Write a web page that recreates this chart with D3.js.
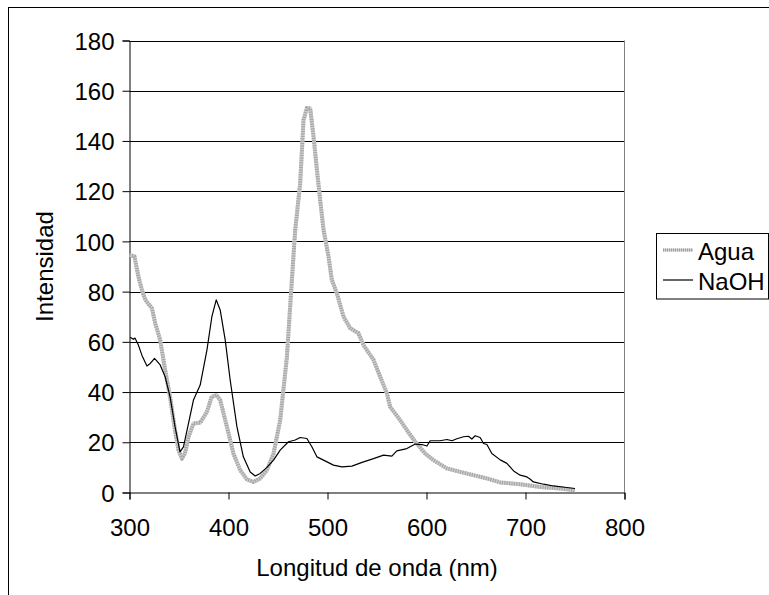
<!DOCTYPE html>
<html>
<head>
<meta charset="utf-8">
<script src="https://cdn.jsdelivr.net/npm/d3@7/dist/d3.min.js"></script>
<style>
  html, body { margin: 0; padding: 0; background: #fff; }
  svg { display: block; }
  text { font-family: "Liberation Sans", Arial, sans-serif; fill: #000; }
</style>
</head>
<body>
<svg id="chart" width="769" height="595"></svg>
<script>
// Emission spectra: wavelength (nm) and intensity for each solvent
const aguaNm = [300, 305, 309, 312.5, 316, 322.6, 326, 331, 336, 341, 346, 349.5, 353, 356, 359.6, 364.6, 371.4, 378.2, 383, 388, 391.6, 398.4, 405, 411.8, 418.6, 425, 432, 438.8, 445.5, 452.2, 459, 464, 467.4, 472.4, 475.8, 479.2, 482.5, 485.9, 489.3, 492.6, 496, 501, 504.4, 509.5, 516.2, 523, 531.3, 536.4, 546.5, 553.2, 560, 563.3, 573.4, 580.2, 588.6, 598.7, 607, 620.6, 634, 647.5, 661, 674.5, 694.6, 715, 735, 750];
const aguaVal = [94.6, 94, 86, 80.7, 76.7, 73.4, 67.4, 60.7, 48.8, 38, 24.8, 16.9, 13.5, 15.5, 22.2, 27.5, 27.8, 32.1, 38.1, 38.8, 36.8, 26.2, 15.5, 8.9, 5.2, 4.2, 5.6, 8.9, 15.5, 28.8, 54, 84.6, 104.6, 123.2, 148.4, 153.1, 153, 141.8, 128.5, 116.5, 104.6, 94, 84.6, 79.3, 70, 65.4, 63.4, 58.7, 52.8, 46.1, 39.5, 34.1, 28.8, 24.8, 20.2, 15.5, 12.9, 9.6, 8.2, 6.9, 5.6, 4, 3.3, 2.2, 1.6, 0.9];

const naohNm = [300.7, 304, 305.5, 309, 312.5, 317.6, 321, 325.3, 331, 336, 341, 346, 351, 354.5, 359.6, 364.6, 371.4, 378.2, 383.2, 387.6, 391.6, 396.7, 401.7, 408.5, 415, 421.9, 427, 432, 438.8, 445.5, 452.2, 460.6, 467.4, 472.4, 479.2, 484.2, 489.3, 496, 506, 514.5, 524.6, 536.4, 546.5, 556.6, 565, 570, 580.2, 588.6, 595.4, 600.4, 603.7, 613.8, 620.6, 625.7, 630.7, 637.4, 642.4, 645.8, 649.2, 654.2, 657.6, 661, 666, 674.5, 681.2, 688, 694.6, 701.4, 704.5, 708, 718.2, 728.3, 741.8, 750];
const naohVal = [61.8, 61, 61.5, 58.7, 54.7, 50.4, 51.4, 53.4, 50.8, 46.1, 38.1, 26.2, 16.2, 18.2, 27.5, 36.8, 42.8, 56.7, 70, 76.7, 72.7, 60.7, 44.8, 26.2, 14.2, 8.2, 6.6, 7.6, 10, 12.9, 16.9, 20.2, 20.9, 21.9, 21.5, 18.2, 14.2, 12.9, 10.9, 10.2, 10.5, 12.2, 13.5, 14.9, 14.5, 16.6, 17.5, 19.3, 19.1, 18.5, 20.6, 20.6, 21.1, 20.6, 21.4, 22.2, 22.4, 21.3, 22.6, 21.9, 19.5, 19.1, 15.5, 13, 11.6, 8.6, 6.9, 6.2, 5.4, 4.2, 3.3, 2.6, 2.0, 1.6];

const xTicks = [300, 400, 500, 600, 700, 800];
const yTicks = [0, 20, 40, 60, 80, 100, 120, 140, 160, 180];
const seriesNames = ["Agua", "NaOH"];

const svg = d3.select("#chart");
const plotLeft = 129.5, plotRight = 624.5, plotTop = 40.5, plotBottom = 492.5;

const x = d3.scaleLinear().domain([300, 800]).range([plotLeft, plotRight]);
const y = d3.scaleLinear().domain([0, 180]).range([plotBottom, plotTop]);

// Outer chart frame (runs off the canvas on the right and bottom)
svg.append("rect")
  .attr("x", 8.5).attr("y", 7.5)
  .attr("width", 800).attr("height", 620)
  .attr("fill", "#fff").attr("stroke", "#000").attr("stroke-width", 1);

// Horizontal gridlines
svg.append("g").selectAll("line")
  .data(yTicks.filter(d => d > 0))
  .join("line")
  .attr("x1", plotLeft).attr("x2", plotRight)
  .attr("y1", d => Math.round(y(d)) + 0.5).attr("y2", d => Math.round(y(d)) + 0.5)
  .attr("stroke", "#000").attr("stroke-width", 1);

// Right edge of the plot area
svg.append("line")
  .attr("x1", plotRight).attr("x2", plotRight)
  .attr("y1", plotTop).attr("y2", plotBottom)
  .attr("stroke", "#808080").attr("stroke-width", 1);

// Axes
const yAxis = d3.axisLeft(y).tickValues(yTicks).tickSize(7).tickPadding(8);
const gy = svg.append("g").attr("transform", `translate(${plotLeft},0)`).call(yAxis);
gy.select(".domain").attr("stroke", "#000");
gy.selectAll(".tick line").attr("stroke", "#000");
gy.selectAll(".tick text")
  .attr("font-size", 24)
  .attr("font-family", "Liberation Sans, Arial, sans-serif")
  .attr("fill", "#000").attr("dy", "0.36em");

const xAxis = d3.axisBottom(x).tickValues(xTicks).tickSize(7).tickPadding(19);
const gx = svg.append("g").attr("transform", `translate(0,${plotBottom})`).call(xAxis);
gx.select(".domain").attr("stroke", "#000");
gx.selectAll(".tick line").attr("stroke", "#000");
gx.selectAll(".tick text")
  .attr("font-size", 24)
  .attr("font-family", "Liberation Sans, Arial, sans-serif")
  .attr("fill", "#000").attr("dy", "0.71em");

// Axis titles
svg.append("text")
  .attr("x", (plotLeft + plotRight) / 2).attr("y", 576)
  .attr("text-anchor", "middle").attr("font-size", 24)
  .text("Longitud de onda (nm)");

svg.append("text")
  .attr("transform", `translate(53,${(plotTop + plotBottom) / 2}) rotate(-90)`)
  .attr("text-anchor", "middle").attr("font-size", 24)
  .text("Intensidad");

// Spectra
const line = d3.line().x(d => x(d[0])).y(d => y(d[1]));
const agua = d3.zip(aguaNm, aguaVal);
const naoh = d3.zip(naohNm, naohVal);

const plot = svg.append("g");
plot.append("path").datum(agua)
  .attr("d", line).attr("fill", "none")
  .attr("stroke", "#cfcfcf").attr("stroke-width", 4)
  .attr("stroke-linejoin", "round");
plot.append("path").datum(agua)
  .attr("d", line).attr("fill", "none")
  .attr("stroke", "#a6a6a6").attr("stroke-width", 4)
  .attr("stroke-dasharray", "1.2,1.2")
  .attr("stroke-linejoin", "round");
plot.append("path").datum(naoh)
  .attr("d", line).attr("fill", "none")
  .attr("stroke", "#000").attr("stroke-width", 1.2)
  .attr("stroke-linejoin", "round");

// Legend
const lg = svg.append("g");
lg.append("rect")
  .attr("x", 656.5).attr("y", 233.5)
  .attr("width", 112).attr("height", 65.5)
  .attr("fill", "#fff").attr("stroke", "#000").attr("stroke-width", 1);

lg.append("line").attr("x1", 663).attr("x2", 693).attr("y1", 250).attr("y2", 250)
  .attr("stroke", "#cfcfcf").attr("stroke-width", 3);
lg.append("line").attr("x1", 663).attr("x2", 693).attr("y1", 250).attr("y2", 250)
  .attr("stroke", "#a0a0a0").attr("stroke-width", 3).attr("stroke-dasharray", "1,1");
lg.append("line").attr("x1", 663).attr("x2", 693).attr("y1", 280).attr("y2", 280)
  .attr("stroke", "#000").attr("stroke-width", 1.2);

lg.selectAll("text.leg")
  .data(seriesNames)
  .join("text")
  .attr("class", "leg")
  .attr("x", 698).attr("y", (d, i) => 260 + i * 30)
  .attr("font-size", 24)
  .text(d => d);
</script>
</body>
</html>
